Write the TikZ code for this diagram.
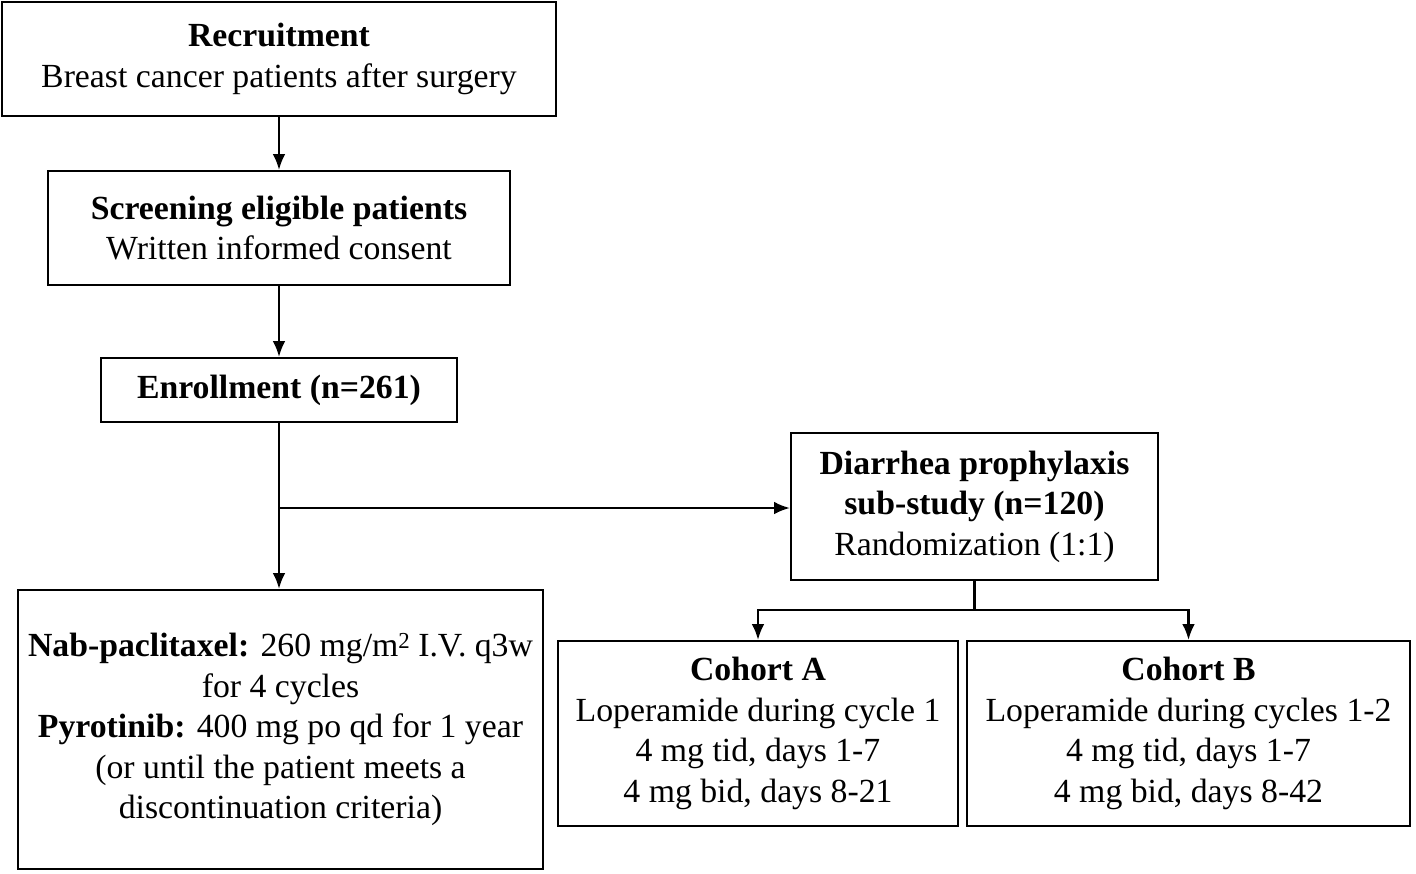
\documentclass[tikz,border=0pt]{standalone}
\usepackage{fontspec}
\setmainfont{Liberation Serif}
\usetikzlibrary{arrows.meta}

\begin{document}
\begin{tikzpicture} [x=0.01cm, y=-0.01cm,
    box/.style={draw, line width=0.6pt, align=center, inner sep=0pt,
      font=\fontsize{9.6}{11.5}\selectfont},
    link/.style={line width=0.6pt, -{Latex[length=4.5pt, width=3.6pt]}}]
    \useasboundingbox (0,0) rectangle (1416,873);

    % study flow boxes %
    \node [box, minimum width=5.54cm, minimum height=1.14cm] (recruit) at (279,59)
      {\textbf{Recruitment}\\Breast cancer patients after surgery};
    \node [box, minimum width=4.61cm, minimum height=1.14cm] (screen) at (279,228)
      {\textbf{Screening eligible patients}\\Written informed consent};
    \node [box, minimum width=3.56cm, minimum height=0.64cm] (enroll) at (279,390)
      {\textbf{Enrollment (n=261)}};
    \node [box, minimum width=5.25cm, minimum height=2.79cm] (treat) at (280.5,729.5)
      {\textbf{Nab-paclitaxel:} 260 mg/m\raisebox{0.55ex}{\fontsize{6.5}{7}\selectfont 2} I.V. q3w\\for 4 cycles\\
       \textbf{Pyrotinib:} 400 mg po qd for 1 year\\(or until the patient meets a\\
       discontinuation criteria)};

    % sub-study boxes %
    \node [box, minimum width=3.67cm, minimum height=1.47cm] (substudy) at (974.5,506.5)
      {\textbf{Diarrhea prophylaxis}\\\textbf{sub-study (n=120)}\\Randomization (1:1)};
    \node [box, minimum width=4.00cm, minimum height=1.85cm] (cohortA) at (758,733.5)
      {\textbf{Cohort A}\\Loperamide during cycle 1\\4 mg tid, days 1-7\\4 mg bid, days 8-21};
    \node [box, minimum width=4.43cm, minimum height=1.85cm] (cohortB) at (1188.5,733.5)
      {\textbf{Cohort B}\\Loperamide during cycles 1-2\\4 mg tid, days 1-7\\4 mg bid, days 8-42};

    % connectors %
    \coordinate (split) at (279,508);
    \coordinate (fork) at (974.5,610);
    \draw [link] (recruit.south) -- (screen.north);
    \draw [link] (screen.south) -- (enroll.north);
    \draw [link] (enroll.south) -- (enroll.south |- treat.north);
    \draw [link] (split) -- (substudy.west |- split);
    \draw [line width=0.6pt] (substudy.south) -- (fork);
    \draw [link] (fork) -| (cohortA.north);
    \draw [link] (fork) -| (cohortB.north);
\end{tikzpicture}
\end{document}
